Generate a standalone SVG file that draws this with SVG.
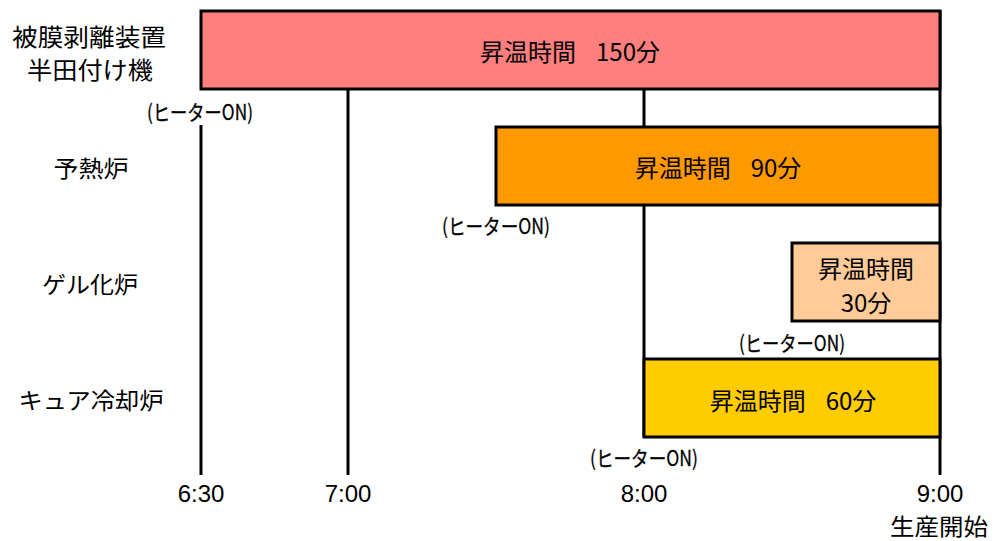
<svg xmlns="http://www.w3.org/2000/svg" width="1008" height="541" viewBox="0 0 1008 541">
<style>
.ln{stroke:#000;stroke-width:3;fill:none}
.bar{stroke:#000;stroke-width:3}
.jp{font-family:"Noto Sans CJK JP","Noto Sans CJK SC",sans-serif;font-size:24px;fill:#000;text-anchor:middle;dominant-baseline:central}
.lb{font-size:23px}
.on{font-family:"Noto Sans CJK JP","Noto Sans CJK SC",sans-serif;font-size:21px;fill:#000;text-anchor:middle;dominant-baseline:central;stroke:#000;stroke-width:0.3}
.tm{font-family:"Liberation Sans",Arial,sans-serif;font-size:24px;fill:#000;text-anchor:middle}
</style>
<rect width="1008" height="541" fill="#fff"/>
<g id="connectors">
<line class="ln" x1="201" y1="125" x2="201" y2="475"/>
<line class="ln" x1="348" y1="89" x2="348" y2="475"/>
<line class="ln" x1="644" y1="89" x2="644" y2="437"/>
<line class="ln" x1="940" y1="10" x2="940" y2="475"/>
</g>
<g id="row1">
<rect class="bar" x="201" y="11" width="739" height="78" fill="#FF7F7F"/>
<text class="jp" x="570" y="50"><tspan>昇温時間</tspan><tspan dx="20">150分</tspan></text>
<text class="on" x="200" y="111" textLength="106" lengthAdjust="spacingAndGlyphs">(ヒーターON)</text>
</g>
<g id="row2">
<rect class="bar" x="496" y="127" width="444" height="78" fill="#FF9900"/>
<text class="jp" x="718" y="166"><tspan>昇温時間</tspan><tspan dx="20">90分</tspan></text>
<text class="on" x="496" y="225" textLength="108" lengthAdjust="spacingAndGlyphs">(ヒーターON)</text>
</g>
<g id="row3">
<rect class="bar" x="792" y="243" width="148" height="78" fill="#FFCC99"/>
<text class="jp" x="866" y="267"><tspan x="866" y="267">昇温時間</tspan><tspan x="866" y="301">30分</tspan></text>
<text class="on" x="792" y="342" textLength="106" lengthAdjust="spacingAndGlyphs">(ヒーターON)</text>
</g>
<g id="row4">
<rect class="bar" x="644" y="359" width="296" height="78" fill="#FFCC00"/>
<text class="jp" x="793" y="399"><tspan>昇温時間</tspan><tspan dx="20">60分</tspan></text>
<text class="on" x="644" y="457" textLength="108" lengthAdjust="spacingAndGlyphs">(ヒーターON)</text>
</g>
<g id="labels">
<text class="jp" font-size="22" x="89" y="35" textLength="154" lengthAdjust="spacingAndGlyphs">被膜剥離装置</text>
<text class="jp" font-size="22" x="90" y="68" textLength="126" lengthAdjust="spacingAndGlyphs">半田付け機</text>
<text class="jp lb" x="91" y="167" textLength="75" lengthAdjust="spacingAndGlyphs">予熱炉</text>
<text class="jp lb" x="90" y="283" textLength="96" lengthAdjust="spacingAndGlyphs">ゲル化炉</text>
<text class="jp lb" x="91" y="399" textLength="145" lengthAdjust="spacingAndGlyphs">キュア冷却炉</text>
</g>
<g id="axis">
<text class="tm" x="201" y="502">6:30</text>
<text class="tm" x="348" y="502">7:00</text>
<text class="tm" x="644" y="502">8:00</text>
<text class="tm" x="940" y="502">9:00</text>
<text class="jp lb" x="939" y="525" textLength="98" lengthAdjust="spacingAndGlyphs">生産開始</text>
</g>
</svg>
